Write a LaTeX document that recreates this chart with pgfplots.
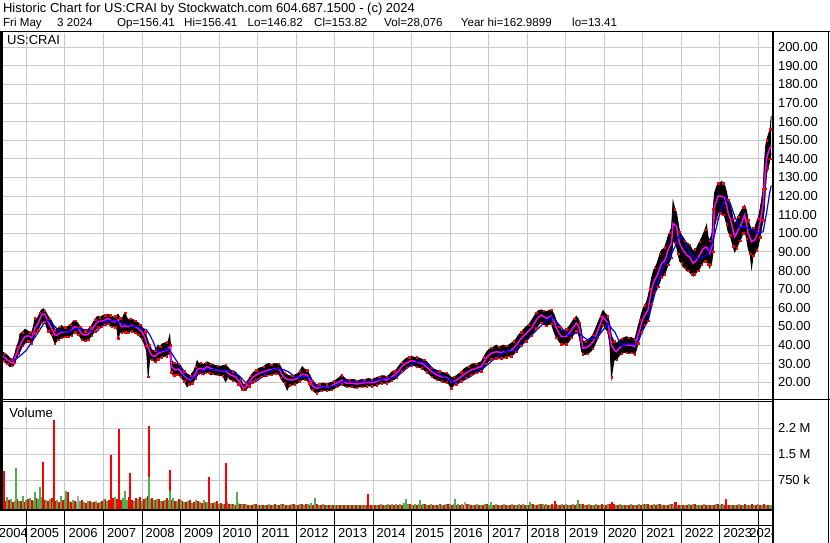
\documentclass[border=0pt]{standalone}
\usepackage{fontspec}
\setmainfont{Liberation Sans}
\usepackage{pgfplots}
\usepackage{pgfplotstable}
\pgfplotsset{compat=1.18}
\usepgfplotslibrary{fillbetween}
\definecolor{gridc}{RGB}{200,200,200}
\definecolor{vgreen}{RGB}{76,175,80}
\definecolor{vred}{RGB}{255,0,0}
\definecolor{vgray}{RGB}{170,170,170}
\definecolor{mag}{RGB}{255,0,255}
\definecolor{mblue}{RGB}{0,0,255}
\newcommand\f{\fontsize{13}{15}\selectfont}
\newcommand\fh{\fontsize{11.6}{14}\selectfont}
\pgfplotsset{vb/.style={draw=none, mark=none, error bars/.cd, y dir=minus, y explicit, error mark=none, error bar style={line width=2pt, draw=#1, solid}}}

\pgfplotstableread{
t lo hi m
2004.32 32.5 37.5 35.0
2004.35 32.0 36.4 34.7
2004.40 31.5 36.0 34.0
2004.44 30.8 35.5 33.2
2004.50 30.0 34.6 32.0
2004.57 28.4 33.0 31.1
2004.61 29.0 32.5 30.5
2004.65 28.8 32.5 30.2
2004.70 30.5 35.5 33.0
2004.74 33.0 39.0 35.6
2004.80 35.5 42.0 38.5
2004.83 36.5 46.0 40.0
2004.90 39.5 47.0 42.5
2004.96 41.0 48.5 44.5
2005.04 42.0 47.5 45.0
2005.09 41.5 47.0 44.6
2005.13 41.0 46.5 44.0
2005.18 43.0 50.0 46.5
2005.22 46.3 54.4 49.0
2005.26 47.0 54.0 50.3
2005.30 48.0 55.0 51.7
2005.35 50.5 57.5 54.0
2005.39 52.0 58.9 56.1
2005.44 53.0 59.5 56.8
2005.48 52.5 58.5 56.5
2005.52 50.0 57.0 54.5
2005.56 47.5 55.5 52.5
2005.61 46.5 54.0 50.5
2005.65 45.5 53.0 49.0
2005.70 43.0 50.5 47.0
2005.74 40.6 48.0 45.4
2005.78 42.0 48.5 45.2
2005.82 43.0 49.0 45.8
2005.87 43.5 50.0 46.5
2005.91 44.0 50.5 47.2
2005.96 44.0 49.5 47.0
2006.00 44.5 49.5 46.9
2006.04 44.0 50.0 47.0
2006.08 44.5 50.0 47.2
2006.13 45.0 51.0 47.6
2006.17 45.0 51.5 48.1
2006.22 46.5 53.0 49.5
2006.26 47.0 53.0 49.9
2006.30 46.0 52.5 49.5
2006.34 45.5 51.5 49.0
2006.39 44.5 50.0 47.5
2006.43 43.0 49.0 46.3
2006.48 42.5 48.0 45.5
2006.52 42.5 47.5 45.4
2006.56 43.0 48.0 45.5
2006.60 43.0 48.5 45.8
2006.65 44.0 49.5 47.0
2006.69 45.0 50.5 48.1
2006.74 46.5 52.5 49.5
2006.78 47.5 53.5 50.8
2006.82 49.0 55.0 51.8
2006.86 49.5 55.5 52.5
2006.90 50.0 55.0 52.7
2006.95 50.0 55.5 52.9
2007.00 50.5 56.0 53.2
2007.04 51.0 56.0 53.5
2007.08 51.0 56.5 54.0
2007.12 51.5 56.5 54.4
2007.17 50.5 56.0 53.5
2007.21 50.0 55.5 52.9
2007.26 50.0 55.0 52.5
2007.30 49.5 55.5 52.5
2007.34 50.0 56.0 53.0
2007.38 43.6 56.5 53.5
2007.43 47.0 54.5 51.5
2007.47 46.5 53.0 49.9
2007.52 47.0 56.0 50.2
2007.56 47.0 57.5 50.4
2007.60 47.0 55.0 50.0
2007.64 46.5 53.5 49.9
2007.69 47.5 54.0 50.3
2007.73 47.5 54.0 50.8
2007.78 47.0 53.5 50.3
2007.82 46.5 53.0 49.9
2007.86 46.0 52.5 49.5
2007.90 45.5 52.0 49.0
2007.95 44.5 51.0 48.0
2007.99 43.5 50.0 47.2
2008.04 41.5 48.5 45.5
2008.08 39.5 47.0 43.6
2008.12 36.5 44.5 41.0
2008.16 23.0 42.0 38.3
2008.20 33.0 40.0 36.5
2008.25 32.0 37.5 34.7
2008.30 31.5 37.0 34.0
2008.34 31.0 37.0 33.8
2008.38 32.0 38.5 35.0
2008.42 32.5 40.0 35.6
2008.47 33.0 39.0 36.0
2008.51 33.5 40.5 36.4
2008.57 34.0 41.0 36.8
2008.64 34.0 41.5 37.3
2008.68 35.0 42.0 38.2
2008.72 36.0 45.4 39.1
2008.74 31.0 40.0 39.1
2008.76 25.5 32.0 28.4
2008.80 24.0 31.0 27.8
2008.84 23.9 30.5 27.0
2008.87 23.5 29.5 26.6
2008.91 24.0 30.0 26.8
2008.95 24.0 30.0 27.0
2009.00 23.0 29.0 26.0
2009.04 22.0 27.5 24.8
2009.10 20.5 26.0 23.5
2009.17 17.6 24.5 22.1
2009.21 19.0 24.0 21.6
2009.26 18.5 23.5 21.2
2009.30 19.5 25.0 22.0
2009.34 20.5 26.0 23.0
2009.39 22.0 28.5 24.8
2009.43 23.5 31.6 26.6
2009.47 24.5 30.0 27.2
2009.52 25.0 30.5 27.5
2009.56 24.5 30.0 27.2
2009.60 24.0 29.5 27.0
2009.65 25.0 30.5 27.7
2009.69 25.5 31.0 28.4
2009.74 25.0 30.5 28.0
2009.78 24.0 30.0 27.5
2009.84 24.5 29.5 27.0
2009.91 24.0 29.0 26.6
2009.97 24.0 29.0 26.4
2010.04 23.5 28.5 26.2
2010.10 23.5 29.0 26.2
2010.17 20.3 29.3 26.2
2010.23 22.5 28.0 25.0
2010.30 21.5 26.5 23.9
2010.36 21.0 26.0 23.5
2010.43 20.5 25.5 23.0
2010.50 19.0 23.5 21.2
2010.56 17.5 21.5 19.5
2010.60 16.0 20.0 18.0
2010.64 15.5 18.5 16.8
2010.69 16.0 19.5 17.5
2010.73 16.8 20.5 18.5
2010.78 18.0 22.0 20.0
2010.82 19.0 23.5 21.2
2010.86 20.0 24.5 22.2
2010.90 21.0 25.5 23.0
2010.97 21.5 26.5 24.0
2011.03 22.5 27.5 24.8
2011.10 23.0 28.0 25.3
2011.16 23.0 28.5 25.7
2011.22 23.5 29.5 26.2
2011.29 24.0 30.2 26.6
2011.35 24.0 29.5 26.8
2011.42 24.5 30.0 27.0
2011.48 24.5 30.0 27.3
2011.55 24.5 30.0 27.5
2011.60 22.5 28.5 25.5
2011.64 21.0 26.5 23.9
2011.70 19.5 25.0 22.5
2011.77 15.9 24.0 21.6
2011.83 18.5 23.5 21.3
2011.90 18.5 23.5 21.2
2011.97 19.0 24.0 21.6
2012.03 19.5 24.5 22.1
2012.10 20.5 26.0 23.3
2012.16 21.5 28.4 24.4
2012.22 21.5 27.0 24.2
2012.29 21.0 26.5 23.9
2012.34 19.5 24.5 22.0
2012.38 16.5 23.0 20.3
2012.42 16.0 21.0 18.5
2012.47 15.0 19.5 17.4
2012.53 14.1 18.5 16.8
2012.60 15.0 19.0 17.2
2012.66 15.5 19.5 17.6
2012.72 15.5 19.5 17.4
2012.79 15.5 19.0 17.3
2012.85 15.5 19.5 17.6
2012.92 16.0 20.0 18.0
2012.98 16.5 20.5 18.8
2013.05 17.5 21.5 19.5
2013.12 18.0 22.5 20.3
2013.18 19.0 23.9 21.2
2013.25 18.0 22.5 20.3
2013.31 17.5 21.5 19.5
2013.38 17.5 21.5 19.5
2013.44 17.5 21.5 19.5
2013.50 17.0 21.5 19.3
2013.57 17.0 21.0 19.1
2013.63 17.5 21.0 19.3
2013.70 17.5 21.5 19.5
2013.77 17.5 21.5 19.7
2013.83 18.0 21.8 19.8
2013.90 18.0 22.0 19.8
2013.96 18.0 21.5 19.8
2014.03 18.0 22.0 20.0
2014.09 18.5 22.5 20.3
2014.16 19.0 23.0 21.0
2014.22 19.5 23.5 21.6
2014.29 19.5 23.5 21.4
2014.35 19.5 23.0 21.2
2014.42 20.0 24.0 22.0
2014.48 21.0 25.5 23.0
2014.55 21.5 26.0 23.8
2014.61 22.5 27.0 24.8
2014.68 24.0 29.0 26.5
2014.74 26.0 30.5 28.4
2014.81 27.0 32.0 29.5
2014.87 28.0 33.0 30.5
2014.94 28.5 33.5 31.2
2015.00 29.0 34.0 31.6
2015.06 29.0 33.5 31.4
2015.13 28.5 33.5 31.1
2015.20 28.0 33.0 30.6
2015.26 27.5 32.5 30.2
2015.33 26.5 32.0 29.3
2015.39 25.5 31.0 28.4
2015.46 24.5 29.5 27.0
2015.52 23.0 28.0 25.7
2015.59 22.0 27.0 24.8
2015.65 21.5 26.5 23.9
2015.72 21.0 26.0 23.4
2015.78 20.5 25.5 23.0
2015.85 20.0 25.0 22.8
2015.91 20.0 25.0 22.7
2015.97 19.0 24.0 21.5
2016.03 16.8 22.5 20.3
2016.10 18.5 23.0 20.7
2016.16 19.0 23.5 21.2
2016.22 19.5 24.5 22.0
2016.29 20.5 25.5 23.0
2016.35 21.5 27.0 24.2
2016.42 22.5 28.0 25.0
2016.48 23.0 28.5 25.9
2016.55 24.0 29.5 26.6
2016.61 24.5 30.0 27.0
2016.68 25.0 30.0 27.5
2016.74 25.5 30.5 28.0
2016.81 26.0 31.0 28.4
2016.87 27.5 33.5 30.5
2016.94 30.0 36.0 32.9
2017.00 31.5 37.5 34.4
2017.07 32.5 38.5 35.6
2017.13 33.0 39.0 36.0
2017.20 33.0 40.0 36.4
2017.26 33.0 39.0 36.2
2017.33 33.0 39.5 36.1
2017.39 33.0 40.0 36.3
2017.46 33.5 39.5 36.4
2017.52 34.0 40.0 36.8
2017.59 34.0 41.0 37.3
2017.65 35.0 42.0 38.5
2017.72 36.5 43.5 40.0
2017.78 38.0 45.5 41.8
2017.85 39.5 47.0 43.6
2017.91 41.0 48.5 45.0
2017.98 42.0 50.0 46.3
2018.04 43.5 51.0 47.6
2018.11 45.0 53.0 49.0
2018.17 47.0 55.0 51.2
2018.24 49.0 57.5 53.5
2018.30 51.0 58.5 55.0
2018.37 52.0 58.9 56.1
2018.43 51.0 58.5 55.2
2018.50 50.5 58.0 54.4
2018.56 51.0 58.5 55.0
2018.63 51.5 59.0 55.6
2018.70 47.0 56.5 52.5
2018.76 44.0 53.0 49.0
2018.83 42.0 50.0 46.5
2018.89 40.5 48.0 44.5
2018.96 40.5 48.0 44.5
2019.02 40.5 48.5 44.5
2019.09 42.0 50.0 46.3
2019.15 44.0 52.0 48.1
2019.22 46.0 54.0 50.0
2019.28 47.5 55.5 51.7
2019.33 46.0 54.0 50.5
2019.37 43.0 52.0 48.1
2019.41 37.0 48.0 43.0
2019.45 35.0 42.0 38.3
2019.52 35.0 42.0 38.6
2019.58 35.5 43.0 39.1
2019.65 36.5 44.0 40.3
2019.71 38.0 45.5 41.8
2019.78 41.0 49.0 45.0
2019.84 44.0 52.0 48.1
2019.91 47.5 55.5 51.7
2019.97 51.0 58.6 55.2
2020.03 49.0 57.0 53.5
2020.10 47.0 55.5 51.7
2020.15 40.0 51.0 46.0
2020.19 22.7 45.0 40.0
2020.26 32.0 42.0 37.5
2020.32 32.0 41.0 36.5
2020.38 34.0 42.0 38.0
2020.45 35.5 43.5 39.5
2020.52 36.0 44.0 40.0
2020.58 36.0 44.5 40.0
2020.64 35.5 44.0 40.0
2020.71 36.0 44.0 40.0
2020.75 35.5 43.5 39.5
2020.79 35.0 43.0 39.1
2020.84 37.5 46.5 42.0
2020.88 41.0 50.0 45.4
2020.93 44.0 53.5 48.5
2020.97 47.0 57.0 51.7
2021.01 49.0 59.5 54.0
2021.05 51.0 61.5 56.1
2021.10 52.0 63.0 57.5
2021.14 53.0 66.0 58.8
2021.18 57.5 70.0 64.0
2021.23 62.0 76.0 69.5
2021.27 65.5 79.0 72.5
2021.31 68.0 81.5 74.9
2021.36 69.5 83.0 76.5
2021.40 71.5 85.5 78.5
2021.45 74.0 89.0 81.5
2021.49 76.5 91.0 83.9
2021.53 77.0 91.5 84.6
2021.57 78.0 92.5 85.3
2021.62 80.5 95.5 88.0
2021.66 83.0 98.5 91.0
2021.70 85.0 100.5 93.0
2021.75 87.0 103.0 94.6
2021.79 96.0 117.2 105.4
2021.84 95.0 113.0 104.5
2021.88 93.0 111.0 103.6
2021.92 89.0 106.0 99.0
2021.96 85.0 101.0 94.6
2022.01 84.0 99.0 92.5
2022.05 82.0 98.0 91.0
2022.10 81.5 96.0 89.5
2022.14 80.0 95.0 88.3
2022.18 80.0 94.5 87.8
2022.22 79.0 94.0 87.4
2022.27 78.0 92.0 85.5
2022.31 77.0 90.5 83.9
2022.36 78.0 91.5 84.8
2022.40 79.0 92.0 85.6
2022.44 80.0 94.0 87.0
2022.48 81.0 95.5 88.3
2022.53 83.0 97.5 90.0
2022.57 84.5 99.5 91.9
2022.62 85.0 102.0 92.3
2022.66 85.0 104.5 92.7
2022.70 83.5 98.0 91.0
2022.74 81.5 96.0 89.2
2022.77 83.0 98.0 91.0
2022.80 85.0 100.0 92.7
2022.83 90.0 113.0 100.0
2022.87 104.0 122.0 114.6
2022.92 108.0 125.0 117.5
2022.96 111.0 127.0 120.0
2023.01 111.0 127.0 120.0
2023.05 110.0 128.0 120.0
2023.09 110.0 127.0 119.5
2023.13 109.0 126.0 119.1
2023.18 105.0 122.0 115.0
2023.22 101.0 118.0 111.0
2023.27 99.0 115.0 108.0
2023.31 96.0 112.0 105.4
2023.35 93.0 108.0 101.5
2023.39 90.0 105.0 98.2
2023.44 92.0 107.0 100.0
2023.48 94.0 109.0 101.8
2023.53 96.0 111.0 103.6
2023.57 98.0 112.5 105.4
2023.61 100.0 114.0 107.6
2023.65 102.0 115.0 109.9
2023.70 97.0 112.0 105.0
2023.74 92.0 107.0 100.0
2023.79 89.0 104.0 97.7
2023.83 81.5 102.0 95.5
2023.87 88.0 103.0 96.0
2023.91 89.0 103.0 96.4
2023.96 91.0 106.0 98.6
2024.00 93.0 108.0 100.9
2024.05 98.0 113.0 106.0
2024.09 103.0 118.0 111.0
2024.13 107.0 124.0 116.0
2024.16 113.0 137.0 125.3
2024.19 124.0 146.0 133.0
2024.22 132.0 150.0 140.0
2024.25 135.0 152.0 142.5
2024.28 137.0 154.0 144.5
2024.31 140.0 156.0 146.0
2024.34 143.0 163.0 147.0
}\price

\pgfplotstableread{
t v
2004.65 32.0
2004.70 32.0
2004.85 34.5
2005.00 37.3
2005.13 41.5
2005.26 45.4
2005.40 50.0
2005.52 53.5
2005.62 52.5
2005.78 49.0
2005.90 47.5
2006.04 46.9
2006.17 47.8
2006.30 49.0
2006.43 48.6
2006.56 48.1
2006.69 47.5
2006.82 47.2
2006.95 50.0
2007.08 52.9
2007.21 53.2
2007.34 52.9
2007.47 51.8
2007.60 50.8
2007.73 50.3
2007.86 49.9
2008.00 49.0
2008.12 48.1
2008.20 45.5
2008.29 41.8
2008.36 38.0
2008.42 36.4
2008.55 37.0
2008.68 37.8
2008.77 35.6
2008.85 33.0
2008.94 30.2
2009.02 27.0
2009.11 23.9
2009.20 22.3
2009.29 21.6
2009.38 23.0
2009.46 24.8
2009.59 26.2
2009.72 27.0
2009.85 26.8
2009.98 26.6
2010.11 26.4
2010.24 26.2
2010.37 25.2
2010.50 23.9
2010.59 22.0
2010.67 20.3
2010.76 19.6
2010.85 19.5
2010.93 20.2
2011.02 21.2
2011.15 23.5
2011.28 25.7
2011.41 26.8
2011.54 27.5
2011.67 26.8
2011.80 25.7
2011.89 24.3
2011.97 23.0
2012.10 22.8
2012.23 23.0
2012.36 22.5
2012.45 20.5
2012.53 18.5
2012.62 17.7
2012.71 17.3
2012.88 17.6
2013.05 18.5
2013.18 19.9
2013.31 21.2
2013.44 20.7
2013.57 20.3
2013.70 20.3
2013.83 20.3
2013.96 20.7
2014.09 21.2
2014.22 21.7
2014.35 22.1
2014.48 22.5
2014.61 23.0
2014.74 25.2
2014.87 27.5
2015.00 29.5
2015.13 31.1
2015.26 30.9
2015.39 30.2
2015.52 28.0
2015.65 25.7
2015.78 23.8
2015.91 22.1
2016.03 20.7
2016.16 19.5
2016.28 20.5
2016.39 21.5
2016.52 23.0
2016.65 24.8
2016.78 26.6
2016.91 28.4
2017.04 30.7
2017.17 32.9
2017.30 34.8
2017.43 36.4
2017.56 36.8
2017.69 37.0
2017.82 39.4
2017.95 41.8
2018.08 44.5
2018.21 47.2
2018.34 49.9
2018.47 52.5
2018.55 54.0
2018.63 55.2
2018.72 53.5
2018.80 51.7
2018.93 48.5
2019.06 45.4
2019.19 46.0
2019.32 46.6
2019.45 44.5
2019.58 42.7
2019.71 43.6
2019.84 44.5
2019.97 48.0
2020.10 51.7
2020.19 49.0
2020.28 47.0
2020.37 43.0
2020.45 39.5
2020.54 40.0
2020.63 40.9
2020.72 40.4
2020.80 40.0
2020.89 42.5
2020.97 46.3
2021.06 50.0
2021.15 53.5
2021.23 60.6
2021.32 67.8
2021.41 74.0
2021.50 79.4
2021.58 83.9
2021.71 87.4
2021.84 92.7
2021.93 98.2
2022.01 98.2
2022.10 95.5
2022.19 91.0
2022.27 88.5
2022.36 86.5
2022.53 86.5
2022.70 89.2
2022.83 96.4
2022.92 103.6
2023.05 114.6
2023.18 119.1
2023.27 116.4
2023.39 109.2
2023.52 103.0
2023.65 103.6
2023.76 102.5
2023.87 101.8
2024.00 100.0
2024.13 100.9
2024.22 111.0
2024.30 121.8
2024.34 125.7
}\slow

\pgfplotstableread{
t r g
2004.35 210 120
2004.45 150 260
2004.55 180 200
2004.65 120 160
2004.75 220 140
2004.85 160 300
2004.95 130 180
2005.05 200 240
2005.15 170 150
2005.25 250 200
2005.35 140 260
2005.45 190 170
2005.55 160 210
2005.65 230 130
2005.75 150 180
2005.85 120 300
2005.95 180 220
2006.05 140 160
2006.15 110 190
2006.25 160 130
2006.35 120 150
2006.45 170 110
2006.55 100 140
2006.65 150 120
2006.75 120 160
2006.85 90 130
2006.95 160 200
2007.05 210 150
2007.15 180 220
2007.25 240 280
2007.35 200 160
2007.45 170 230
2007.55 150 190
2007.65 260 170
2007.75 180 140
2007.85 230 200
2007.95 270 160
2008.05 220 250
2008.15 300 200
2008.25 240 180
2008.35 170 220
2008.45 200 150
2008.55 160 190
2008.65 230 170
2008.75 190 250
2008.85 150 140
2008.95 210 180
2009.05 150 120
2009.15 120 140
2009.25 180 100
2009.35 110 170
2009.45 150 130
2009.55 100 190
2009.65 130 120
2009.75 160 100
2009.85 90 130
2009.95 140 80
2010.05 90 60
2010.15 70 110
2010.25 60 80
2010.35 80 50
2010.45 50 90
2010.55 70 60
2010.65 60 70
2010.75 50 40
2010.85 40 60
2010.95 60 45
2011.05 35 50
2011.15 50 40
2011.25 40 60
2011.35 45 35
2011.45 60 40
2011.55 40 55
2011.65 70 45
2011.75 50 40
2011.85 40 60
2011.95 55 35
2012.05 40 70
2012.15 60 50
2012.25 80 60
2012.35 50 90
2012.45 45 60
2012.55 60 40
2012.65 40 55
2012.75 50 35
2012.85 35 45
2012.95 40 30
2013.05 30 50
2013.15 45 35
2013.25 35 40
2013.35 50 30
2013.45 30 45
2013.55 40 35
2013.65 35 50
2013.75 45 40
2013.85 40 35
2013.95 35 45
2014.05 30 40
2014.15 40 55
2014.25 35 45
2014.35 45 60
2014.45 40 70
2014.55 50 80
2014.65 45 60
2014.75 40 90
2014.85 55 70
2014.95 60 50
2015.05 45 60
2015.15 50 70
2015.25 40 55
2015.35 55 45
2015.45 45 60
2015.55 50 40
2015.65 40 50
2015.75 60 45
2015.85 45 55
2015.95 55 60
2016.05 50 70
2016.15 45 80
2016.25 40 60
2016.35 50 45
2016.45 60 55
2016.55 45 50
2016.65 40 60
2016.75 50 45
2016.85 45 55
2016.95 55 40
2017.05 40 50
2017.15 45 60
2017.25 50 45
2017.35 40 55
2017.45 45 50
2017.55 35 60
2017.65 50 45
2017.75 45 70
2017.85 40 55
2017.95 50 45
2018.05 45 60
2018.15 55 50
2018.25 50 70
2018.35 60 55
2018.45 45 65
2018.55 50 40
2018.65 55 50
2018.75 60 45
2018.85 45 55
2018.95 50 60
2019.05 40 50
2019.15 45 55
2019.25 50 60
2019.35 60 70
2019.45 55 50
2019.55 45 55
2019.65 50 45
2019.75 40 60
2019.85 45 50
2019.95 55 45
2020.05 50 55
2020.15 70 40
2020.25 60 50
2020.35 45 55
2020.45 40 50
2020.55 50 45
2020.65 45 55
2020.75 40 50
2020.85 50 60
2020.95 45 55
2021.05 55 60
2021.15 60 45
2021.25 50 55
2021.35 45 60
2021.45 55 50
2021.55 50 45
2021.65 40 55
2021.75 60 45
2021.85 55 40
2021.95 45 50
2022.05 40 45
2022.15 50 55
2022.25 45 60
2022.35 55 50
2022.45 50 45
2022.55 40 55
2022.65 45 50
2022.75 50 40
2022.85 45 55
2022.95 60 50
2023.05 55 45
2023.15 50 40
2023.25 45 50
2023.35 40 45
2023.45 50 55
2023.55 45 40
2023.65 55 50
2023.75 50 45
2023.85 60 40
2023.95 45 55
2024.05 50 45
2024.15 55 50
2024.25 45 40
2024.32 40 35
}\vol

\pgfplotstableread{
t v
2004.38 230
2004.42 1020
2005.44 1280
2005.71 2490
2006.08 410
2007.19 1480
2007.40 2230
2007.70 960
2008.17 2320
2008.72 1050
2009.74 850
2010.18 1250
2013.88 350
2018.73 160
2020.21 130
2021.85 130
2021.87 130
2023.16 210
}\spkred

\pgfplotstableread{
t v
2004.72 1100
2005.22 420
2005.35 550
2006.02 450
2007.57 450
2008.17 850
2008.72 450
2010.46 410
2012.49 250
2014.85 210
2015.22 170
2016.13 210
2017.05 130
2018.07 130
2019.33 170
}\spkgreen

\pgfplotstableread{
t v
2006.35 300
2016.39 130
}\spkgray

\begin{document}
\begin{tikzpicture}

% ---------- price panel ----------
\begin{axis}[
  at={(0pt,143pt)}, anchor=south west,
  width=772pt, height=367pt, scale only axis,
  xmin=2004.312, xmax=2024.36, ymin=10.5, ymax=207.6,
  axis line style={draw=none},
  xtick={2005,2006,...,2024}, xticklabels={},
  ytick={20,30,...,200},
  yticklabels={20.00,30.00,40.00,50.00,60.00,70.00,80.00,90.00,100.00,110.00,120.00,130.00,140.00,150.00,160.00,170.00,180.00,190.00,200.00},
  yticklabel pos=right,
  major tick length=0pt,
  grid=major, grid style={gridc, line width=1pt},
  tick label style={font=\f, text=black},
  yticklabel style={xshift=2.5pt},
  clip=true,
]
\addplot[name path=H, draw=black, line width=0.8pt] table[x=t,y=hi]{\price};
\addplot[name path=L, draw=black, line width=0.8pt] table[x=t,y=lo]{\price};
\addplot[fill=black, draw=none] fill between[of=H and L];
\addplot[only marks, mark=square*, mark size=0.7pt, color=vred, each nth point=2] table[x=t,y=lo]{\price};
\addplot[only marks, mark=square*, mark size=0.7pt, color=vred, each nth point=3] table[x=t,y=hi]{\price};
\addplot[mag, line width=1.5pt] table[x=t,y=m]{\price};
\addplot[mblue, line width=1.2pt] table[x=t,y=v]{\slow};
\node[anchor=base west, inner sep=0pt, font=\f] at (rel axis cs:0.009,0) [yshift=355pt] {US:CRAI};
\end{axis}

% ---------- volume panel ----------
\begin{axis}[
  at={(0pt,34pt)}, anchor=south west,
  width=772pt, height=107pt, scale only axis,
  xmin=2004.312, xmax=2024.36, ymin=-78, ymax=3009,
  axis line style={draw=none},
  xtick={2005,2006,...,2024}, xticklabels={},
  ytick={750,1500,2250}, yticklabels={750 k,1.5 M,2.2 M},
  yticklabel pos=right,
  major tick length=0pt,
  grid=major, grid style={gridc, line width=1pt},
  tick label style={font=\f, text=black},
  yticklabel style={xshift=2.5pt},
  clip=true,
]
\addplot[vb=vred] table[x=t, y=r, y error minus expr=\thisrow{r}+78]{\vol};
\addplot[vb=vgreen] table[x expr=\thisrow{t}+0.05, y=g, y error minus expr=\thisrow{g}+78]{\vol};
\addplot[vb=vred] table[x=t, y=v, y error minus expr=\thisrow{v}+78]{\spkred};
\addplot[vb=vgreen] table[x=t, y=v, y error minus expr=\thisrow{v}+78]{\spkgreen};
\addplot[vb=vgray] table[x=t, y=v, y error minus expr=\thisrow{v}+78]{\spkgray};
\node[anchor=base west, inner sep=0pt, font=\f] at (rel axis cs:0.012,0) [yshift=91pt] {Volume};
\end{axis}

% ---------- year strip ----------
\begin{axis}[
  at={(0pt,0pt)}, anchor=south west,
  width=772pt, height=32pt, scale only axis,
  xmin=2004.312, xmax=2024.36, ymin=0, ymax=32,
  axis line style={draw=none},
  xtick={2005,2006,...,2024}, xticklabels={},
  ytick=\empty,
  major tick length=0pt,
  xmajorgrids, grid style={black, line width=1pt},
  clip=true,
]
\draw[black, line width=1pt] (axis cs:2004.312,17) -- (axis cs:2024.36,17);
\node[font=\f, anchor=base] at (axis cs:2004.66,5) {2004};
\node[font=\f, anchor=base] at (axis cs:2005.47,5) {2005};
\node[font=\f, anchor=base] at (axis cs:2006.47,5) {2006};
\node[font=\f, anchor=base] at (axis cs:2007.47,5) {2007};
\node[font=\f, anchor=base] at (axis cs:2008.47,5) {2008};
\node[font=\f, anchor=base] at (axis cs:2009.47,5) {2009};
\node[font=\f, anchor=base] at (axis cs:2010.47,5) {2010};
\node[font=\f, anchor=base] at (axis cs:2011.47,5) {2011};
\node[font=\f, anchor=base] at (axis cs:2012.47,5) {2012};
\node[font=\f, anchor=base] at (axis cs:2013.47,5) {2013};
\node[font=\f, anchor=base] at (axis cs:2014.47,5) {2014};
\node[font=\f, anchor=base] at (axis cs:2015.47,5) {2015};
\node[font=\f, anchor=base] at (axis cs:2016.47,5) {2016};
\node[font=\f, anchor=base] at (axis cs:2017.47,5) {2017};
\node[font=\f, anchor=base] at (axis cs:2018.47,5) {2018};
\node[font=\f, anchor=base] at (axis cs:2019.47,5) {2019};
\node[font=\f, anchor=base] at (axis cs:2020.47,5) {2020};
\node[font=\f, anchor=base] at (axis cs:2021.47,5) {2021};
\node[font=\f, anchor=base] at (axis cs:2022.47,5) {2022};
\node[font=\f, anchor=base] at (axis cs:2023.47,5) {2023};
\node[font=\f, anchor=base] at (axis cs:2024.15,5) {2024};
\end{axis}

\begin{scope}[x=1pt,y=1pt]
% ---------- frame lines ----------
\draw[black, line width=1.5pt] (0,511.3) -- (830,511.3);
\draw[black, line width=2.5pt] (1.25,511.3) -- (1.25,32);
\draw[black, line width=2pt] (773,511.3) -- (773,0);
\draw[black, line width=1pt] (0,143) -- (830,143);
\draw[black, line width=1pt] (0,141.2) -- (773,141.2);
\draw[black, line width=1.5pt] (0,33) -- (773,33);
\draw[black, line width=1.5pt] (828.5,511.3) -- (828.5,0);

% ---------- header ----------
\node[anchor=base west, inner sep=0pt, font=\f] at (2.9,530.3) {Historic Chart for US:CRAI by Stockwatch.com 604.687.1500 - (c) 2024};
\node[anchor=base west, inner sep=0pt, font=\fh] at (2.9,516.3) {Fri May};
\node[anchor=base west, inner sep=0pt, font=\fh] at (57,516.3) {3 2024};
\node[anchor=base west, inner sep=0pt, font=\fh] at (117,516.3) {Op=156.41};
\node[anchor=base west, inner sep=0pt, font=\fh] at (184,516.3) {Hi=156.41};
\node[anchor=base west, inner sep=0pt, font=\fh] at (247.5,516.3) {Lo=146.82};
\node[anchor=base west, inner sep=0pt, font=\fh] at (314,516.3) {Cl=153.82};
\node[anchor=base west, inner sep=0pt, font=\fh] at (384,516.3) {Vol=28,076};
\node[anchor=base west, inner sep=0pt, font=\fh] at (460.7,516.3) {Year hi=162.9899};
\node[anchor=base west, inner sep=0pt, font=\fh] at (572,516.3) {lo=13.41};
\end{scope}

\pgfresetboundingbox
\useasboundingbox (0pt,0pt) rectangle (830pt,543pt);
\end{tikzpicture}
\end{document}
